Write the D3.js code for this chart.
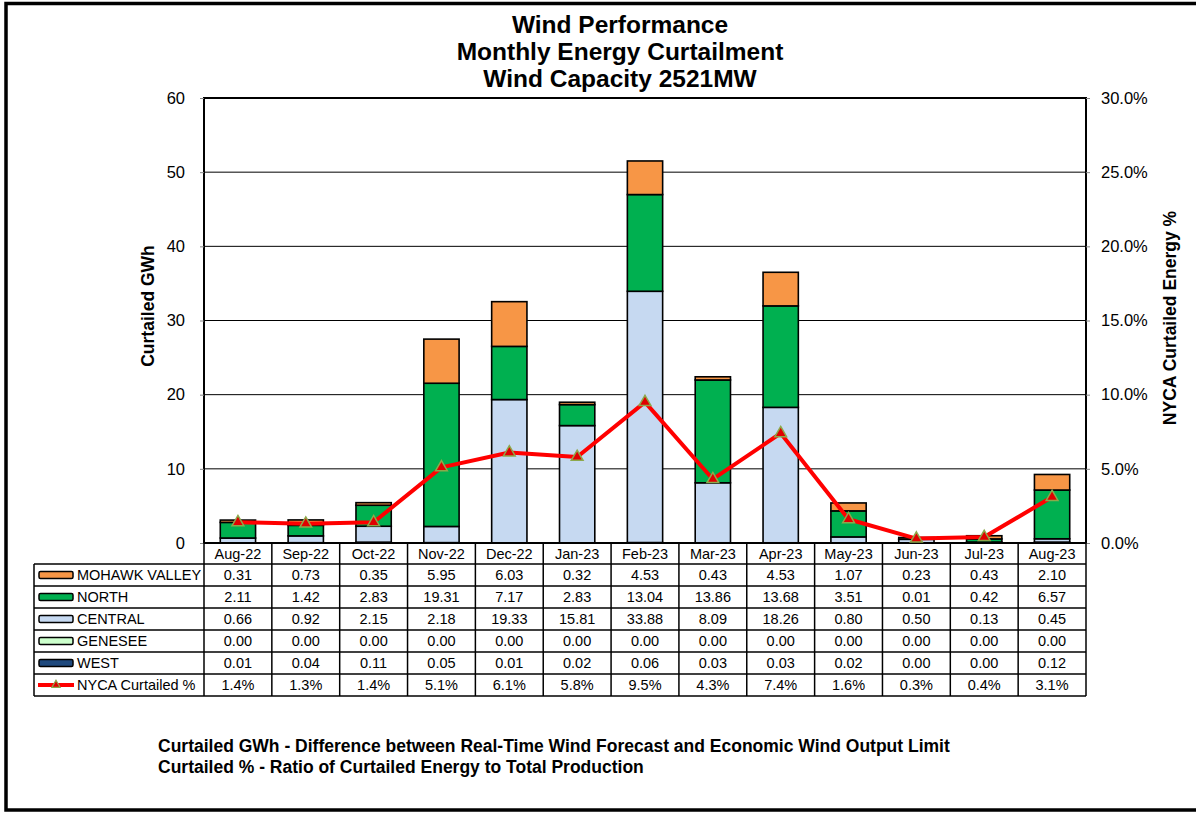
<!DOCTYPE html>
<html><head><meta charset="utf-8">
<script src="https://cdn.jsdelivr.net/npm/d3@7"></script>
<style>body{margin:0;background:#fff}svg{display:block;font-family:"Liberation Sans",Arial,sans-serif}</style>
</head><body><svg id="c" width="1196" height="813"></svg>
<script>
const months = ["Aug-22","Sep-22","Oct-22","Nov-22","Dec-22","Jan-23","Feb-23","Mar-23","Apr-23","May-23","Jun-23","Jul-23","Aug-23"];
const west     = [0.01,0.04,0.11,0.05,0.01,0.02,0.06,0.03,0.03,0.02,0.00,0.00,0.12];
const genesee  = [0.00,0.00,0.00,0.00,0.00,0.00,0.00,0.00,0.00,0.00,0.00,0.00,0.00];
const central  = [0.66,0.92,2.15,2.18,19.33,15.81,33.88,8.09,18.26,0.80,0.50,0.13,0.45];
const north    = [2.11,1.42,2.83,19.31,7.17,2.83,13.04,13.86,13.68,3.51,0.01,0.42,6.57];
const mohawk   = [0.31,0.73,0.35,5.95,6.03,0.32,4.53,0.43,4.53,1.07,0.23,0.43,2.10];
const nycaPct  = [1.4,1.3,1.4,5.1,6.1,5.8,9.5,4.3,7.4,1.6,0.3,0.4,3.1];
const leftTicks = [0,10,20,30,40,50,60];
const rightTicks = [0,5,10,15,20,25,30];

const seriesNames = ["WEST","GENESEE","CENTRAL","NORTH","MOHAWK VALLEY"];
const seriesVals = [west,genesee,central,north,mohawk];
const colors = {"WEST":"#1F497D","GENESEE":"#CCFFCC","CENTRAL":"#C6D9F1","NORTH":"#00B050","MOHAWK VALLEY":"#F79646"};

const svg = d3.select("#c");
const L=204, R=1086, T=98, B=543;
// frame
svg.append("rect").attr("x",6).attr("y",3.5).attr("width",1200).attr("height",806.5)
  .attr("fill","none").attr("stroke","#000").attr("stroke-width",3.5);

const x = d3.scaleBand().domain(months).range([L,R]).paddingInner(0.48).paddingOuter(0.24);
const xb = d3.scaleBand().domain(months).range([L,R]);
const y = d3.scaleLinear().domain([0,60]).range([B,T]);
const y2 = d3.scaleLinear().domain([0,30]).range([B,T]);

// gridlines
svg.append("g").selectAll("line").data(leftTicks.slice(1)).join("line")
  .attr("x1",L).attr("x2",R).attr("y1",d=>y(d)).attr("y2",d=>y(d))
  .attr("stroke","#000").attr("stroke-width",1);

// stacked bars
const rows = months.map((m,i)=>{const o={month:m}; seriesNames.forEach((s,j)=>o[s]=seriesVals[j][i]); return o;});
const stack = d3.stack().keys(seriesNames)(rows);
svg.append("g").selectAll("g").data(stack).join("g")
  .attr("fill",d=>colors[d.key])
  .selectAll("rect").data(d=>d).join("rect")
  .attr("x",d=>x(d.data.month)).attr("width",x.bandwidth())
  .attr("y",d=>y(d[1])).attr("height",d=>Math.max(0,y(d[0])-y(d[1])))
  .attr("stroke","#000").attr("stroke-width",1.6);

// plot border
svg.append("path").attr("d",`M${L},${T}H${R}V${B}H${L}Z`).attr("fill","none").attr("stroke","#000").attr("stroke-width",2);

// left axis
const ga = svg.append("g").attr("transform",`translate(${L},0)`)
  .call(d3.axisLeft(y).tickValues(leftTicks).tickSize(4).tickFormat(d3.format("d")));
ga.select(".domain").remove();
ga.selectAll("text").attr("font-size",16.5).attr("fill","#000").attr("dx",-12).attr("font-family","Liberation Sans, Arial");
ga.selectAll("line").attr("stroke","#888");

// right axis
const gr = svg.append("g").attr("transform",`translate(${R},0)`)
  .call(d3.axisRight(y2).tickValues(rightTicks).tickSize(4).tickFormat(d=>d.toFixed(1)+"%"));
gr.select(".domain").remove();
gr.selectAll("text").attr("font-size",16.5).attr("fill","#000").attr("dx",8).attr("font-family","Liberation Sans, Arial");
gr.selectAll("line").attr("stroke","#888");

// line
const cx = m => xb(m)+xb.bandwidth()/2;
svg.append("path").datum(nycaPct).attr("fill","none").attr("stroke","#FF0000").attr("stroke-width",4)
  .attr("stroke-linejoin","round")
  .attr("d",d3.line().x((d,i)=>cx(months[i])).y(d=>y2(d)));
const tri = d3.symbol().type(d3.symbolTriangle).size(60);
svg.append("g").selectAll("path").data(nycaPct).join("path")
  .attr("transform",(d,i)=>`translate(${cx(months[i])},${y2(d)})`)
  .attr("d",tri).attr("fill","#E00000").attr("stroke","#8DA84B").attr("stroke-width",1.5);

// titles
const title = ["Wind Performance","Monthly Energy Curtailment","Wind Capacity 2521MW"];
svg.append("g").selectAll("text").data(title).join("text")
  .attr("x",620).attr("y",(d,i)=>33+i*27).attr("text-anchor","middle")
  .attr("font-size",24.5).attr("font-weight","bold").text(d=>d);

svg.append("text").attr("transform",`translate(154,306) rotate(-90)`)
  .attr("text-anchor","middle").attr("font-size",17.5).attr("font-weight","bold").text("Curtailed GWh");
svg.append("text").attr("transform",`translate(1176,318) rotate(-90)`)
  .attr("text-anchor","middle").attr("font-size",17.5).attr("font-weight","bold").text("NYCA  Curtailed Energy %");

// data table
const tL = 34, rowH = 22, hdrB = 564;
const tableRows = [
  {name:"MOHAWK VALLEY", vals:mohawk, fmt:d=>d.toFixed(2), type:"bar"},
  {name:"NORTH", vals:north, fmt:d=>d.toFixed(2), type:"bar"},
  {name:"CENTRAL", vals:central, fmt:d=>d.toFixed(2), type:"bar"},
  {name:"GENESEE", vals:genesee, fmt:d=>d.toFixed(2), type:"bar"},
  {name:"WEST", vals:west, fmt:d=>d.toFixed(2), type:"bar"},
  {name:"NYCA Curtailed %", vals:nycaPct, fmt:d=>d.toFixed(1)+"%", type:"line"}
];
const tB = hdrB + rowH*tableRows.length;
const fs = 14.5;
const tg = svg.append("g");
// header labels
tg.selectAll("text.h").data(months).join("text").attr("class","h")
  .attr("x",d=>cx(d)).attr("y",559).attr("text-anchor","middle").attr("font-size",fs).text(d=>d);
// horizontal lines
const hl = d3.range(tableRows.length+1).map(i=>hdrB+i*rowH);
tg.selectAll("line.hr").data(hl).join("line").attr("class","hr")
  .attr("x1",tL).attr("x2",R).attr("y1",d=>d).attr("y2",d=>d).attr("stroke","#000").attr("stroke-width",1.5);
// vertical lines
const vl = months.map(m=>xb(m)).concat([R]);
tg.selectAll("line.vr").data(vl).join("line").attr("class","vr")
  .attr("x1",d=>d).attr("x2",d=>d).attr("y1",B).attr("y2",tB).attr("stroke","#000").attr("stroke-width",1.5);
tg.append("line").attr("x1",tL).attr("x2",tL).attr("y1",hdrB).attr("y2",tB).attr("stroke","#000").attr("stroke-width",1.5);
// rows
tableRows.forEach((r,k)=>{
  const yc = hdrB + k*rowH + rowH/2;
  if(r.type==="bar"){
    tg.append("rect").attr("x",39).attr("y",yc-3.5).attr("width",34).attr("height",7).attr("rx",1.5)
      .attr("fill",colors[r.name]).attr("stroke","#000").attr("stroke-width",1.5);
  } else {
    tg.append("line").attr("x1",38).attr("x2",74).attr("y1",yc).attr("y2",yc).attr("stroke","#FF0000").attr("stroke-width",4);
    tg.append("path").attr("transform",`translate(56,${yc})`).attr("d",d3.symbol().type(d3.symbolTriangle).size(30))
      .attr("fill","#E00000").attr("stroke","#8DA84B").attr("stroke-width",1.2);
  }
  tg.append("text").attr("x",77).attr("y",yc+5).attr("font-size",fs).text(r.name);
  tg.selectAll(null).data(r.vals).join("text")
    .attr("x",(d,i)=>cx(months[i])).attr("y",yc+5).attr("text-anchor","middle").attr("font-size",fs).text(r.fmt);
});

// footnotes
const notes = ["Curtailed GWh - Difference between Real-Time Wind Forecast and Economic Wind Output Limit",
               "Curtailed % - Ratio of Curtailed Energy to Total Production"];
svg.append("g").selectAll("text").data(notes).join("text")
  .attr("x",158).attr("y",(d,i)=>752+i*21).attr("font-size",17.5).attr("font-weight","bold").text(d=>d);
</script></body></html>
